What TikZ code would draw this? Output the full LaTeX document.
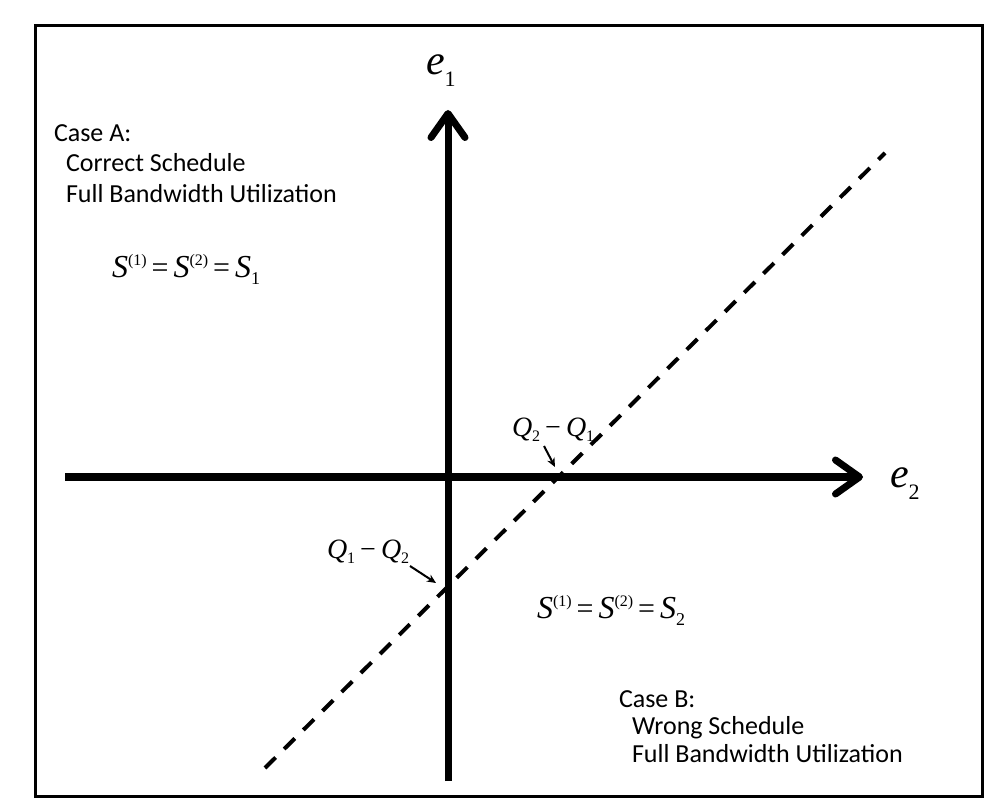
\documentclass[tikz,border=0pt]{standalone}
\usepackage{fontspec}
\setmainfont{Carlito}
\newfontfamily\tms{Liberation Serif}
\usetikzlibrary{arrows.meta}
\newcommand{\mS}{{\fontsize{32}{32}\tms\itshape S}}
\newcommand{\mQ}{{\fontsize{28}{28}\tms\itshape Q}}
\newcommand{\msup}[1]{\raisebox{12pt}{\fontsize{16}{16}\tms #1}}
\newcommand{\msub}[1]{\raisebox{-7pt}{\fontsize{18}{18}\tms #1}}
\newcommand{\qsub}[1]{\raisebox{-5pt}{\fontsize{16}{16}\tms #1}}
\newcommand{\meq}{\hspace{5pt}{\fontsize{30}{30}\tms =}\hspace{5pt}}
\newcommand{\mminus}{\hspace{5pt}{\fontsize{28}{28}\tms −}\hspace{5pt}}
\newcommand{\me}{{\fontsize{42}{42}\tms\itshape e}}
\newcommand{\esub}[2]{\raisebox{-#2}{\fontsize{22}{22}\tms #1}}
\begin{document}
\begin{tikzpicture}[x=1pt,y=-1pt,
  every node/.style={inner sep=0pt, outer sep=0pt, anchor=base west},
  casetext/.style={font=\fontsize{26}{30}\selectfont},
  axis/.style={line width=7pt, -{Straight Barb[length=24pt,width=34pt,line cap=round,line join=round]}},
  diag/.style={line width=4pt, dash pattern=on 15pt off 12pt},
  pointer/.style={line width=2pt, -{Stealth[length=9pt,width=8pt]}}]
\fill[white] (0,0) rectangle (991,799);
\useasboundingbox (0,0) rectangle (991,799);
\draw[line width=3pt] (35,26) rectangle (982,796);
% axes
\coordinate (vb) at (448,781);
\coordinate (vt) at (448,110);
\coordinate (hl) at (65,477);
\coordinate (hr) at (863,477);
\draw[axis] (vb) -- (vt);
\draw[axis] (hl) -- (hr);
% diagonal
\coordinate (d1) at (265,768);
\coordinate (d2) at (885,153);
\draw[diag] (d1) -- (d2);
% axis labels
\node (e1) at (426,75) {\me\esub{1}{12pt}};
\node (e2) at (890,487) {\me\esub{2}{13pt}};
% Case A
\node[casetext] (caseA1) at (54,142) {Case A:};
\node[casetext] (caseA2) at (66,172) {Correct Schedule};
\node[casetext] (caseA3) at (66,203) {Full Bandwidth Utilization};
% Case B
\node[casetext] (caseB1) at (619,707) {Case B:};
\node[casetext] (caseB2) at (632,734) {Wrong Schedule};
\node[casetext] (caseB3) at (632,762) {Full Bandwidth Utilization};
% equations
\node (eqA) at (112,278) {\mS\msup{(1)}\meq\mS\msup{(2)}\meq\mS\msub{1}};
\node (eqB) at (537,618) {\mS\msup{(1)}\meq\mS\msup{(2)}\meq\mS\msub{2}};
% Q labels
\node (q21) at (512,437) {\mQ\qsub{2}\mminus\mQ\qsub{1}};
\node (q12) at (327,558) {\mQ\qsub{1}\mminus\mQ\qsub{2}};
\coordinate (p1s) at (544,446);
\coordinate (p1e) at (555,467);
\coordinate (p2s) at (410,566);
\coordinate (p2e) at (436,583);
\draw[pointer] (p1s) -- (p1e);
\draw[pointer] (p2s) -- (p2e);
\end{tikzpicture}
\end{document}
